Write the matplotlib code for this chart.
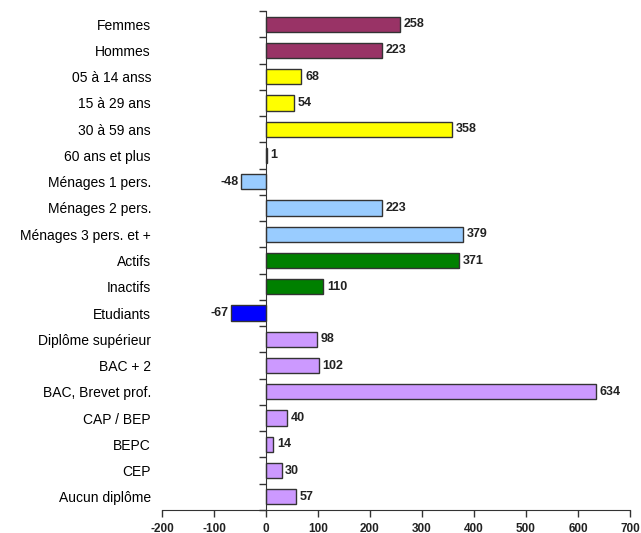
import matplotlib
matplotlib.use("Agg")
import matplotlib.pyplot as plt
import numpy as np

categories = ["Femmes", "Hommes", "05 à 14 anss", "15 à 29 ans", "30 à 59 ans",
              "60 ans et plus", "Ménages 1 pers.", "Ménages 2 pers.",
              "Ménages 3 pers. et +", "Actifs", "Inactifs", "Etudiants",
              "Diplôme supérieur", "BAC + 2", "BAC, Brevet prof.", "CAP / BEP",
              "BEPC", "CEP", "Aucun diplôme"]
values = [258, 223, 68, 54, 358, 1, -48, 223, 379, 371, 110, -67,
          98, 102, 634, 40, 14, 30, 57]
colors = ["#993366", "#993366", "#FFFF00", "#FFFF00", "#FFFF00", "#FFFF00",
          "#99CCFF", "#99CCFF", "#99CCFF", "#008000", "#008000", "#0000FF",
          "#CC99FF", "#CC99FF", "#CC99FF", "#CC99FF", "#CC99FF", "#CC99FF", "#CC99FF"]
xticks = [-200, -100, 0, 100, 200, 300, 400, 500, 600, 700]

plt.rcParams['font.family'] = ['Liberation Sans', 'DejaVu Sans']

fig = plt.figure(figsize=(6.41, 5.33), dpi=100)
ax = fig.add_axes([162/641, 23/533, (630-162)/641, (510-11)/533])

n = len(categories)
y = np.arange(n)
ax.barh(y, values, height=0.58, color=colors, edgecolor="#333333", linewidth=1.0, zorder=3)

ax.set_ylim(n - 0.5, -0.5)
ax.set_xlim(-200, 700)
ax.set_xticks(xticks)
ax.set_xticklabels([str(t) for t in xticks], fontsize=8.5, fontweight="bold", color="#222222")

ax.set_yticks(y)
ax.set_yticklabels(categories, fontsize=10.5, color="#222222")
ax.tick_params(axis="y", which="major", length=0, pad=(266 - 151) * 0.72)
ax.set_yticks(np.arange(-0.5, n, 1.0), minor=True)
ax.tick_params(axis="y", which="minor", length=5, width=1, color="#333333")
ax.tick_params(axis="x", length=5, width=1, color="#333333", pad=4)

for s in ["top", "right"]:
    ax.spines[s].set_visible(False)
ax.spines["left"].set_position(("data", 0))
ax.spines["left"].set_color("#333333")
ax.spines["bottom"].set_color("#333333")
ax.spines["left"].set_zorder(4)

for yi, v in zip(y, values):
    if v >= 0:
        ax.text(v + 7, yi, str(v), va="center", ha="left", fontsize=9, fontweight="bold", color="#222222")
    else:
        ax.text(v - 5, yi, str(v), va="center", ha="right", fontsize=9, fontweight="bold", color="#222222")

fig.savefig("out.png", dpi=100)
